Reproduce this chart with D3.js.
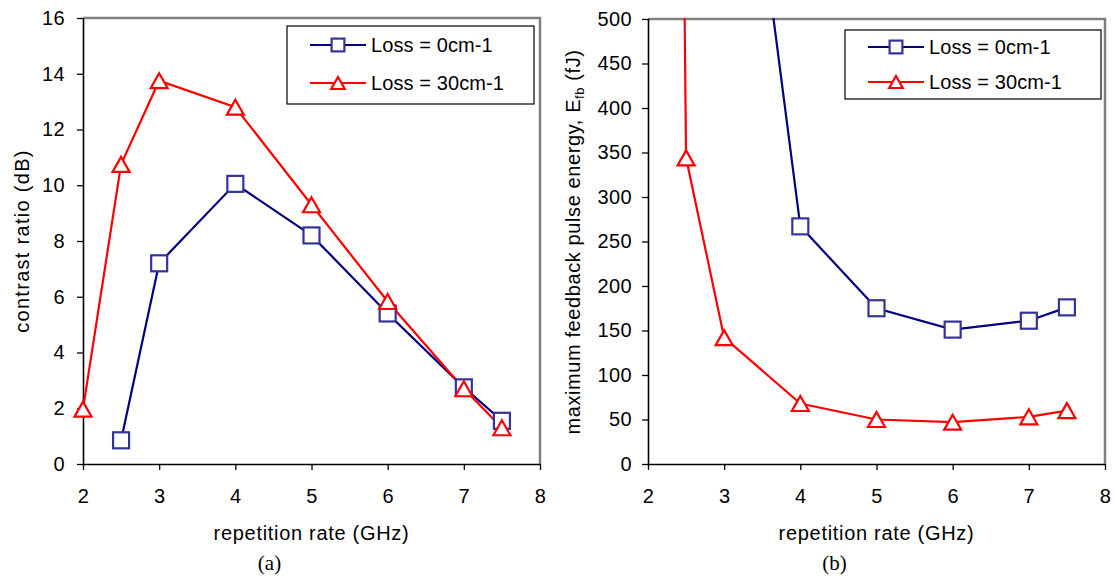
<!DOCTYPE html>
<html>
<head>
<meta charset="utf-8">
<script src="https://cdn.jsdelivr.net/npm/d3@7"></script>
<style>
  body { margin: 0; background: #fff; }
  svg text { font-family: "Liberation Sans", Arial, sans-serif; fill: #000; }
</style>
</head>
<body>
<svg width="1114" height="577"></svg>
<script>
// panel (a): contrast ratio
var rateA0 = [2.5, 3, 4, 5, 6, 7, 7.5];
var contrastLoss0 = [0.85, 7.2, 10.05, 8.2, 5.4, 2.75, 1.55];
var rateA30 = [2, 2.5, 3, 4, 5, 6, 7, 7.5];
var contrastLoss30 = [1.97, 10.75, 13.75, 12.8, 9.3, 5.83, 2.7, 1.3];

// panel (b): max feedback pulse energy (first points run off the top)
var rateB0 = [3, 4, 5, 6, 7, 7.5];
var energyLoss0 = [930, 267, 175, 151, 161, 176];
var rateB30 = [2, 2.5, 3, 4, 5, 6, 7, 7.5];
var energyLoss30 = [4500, 344, 142, 68, 50, 47, 53, 60];

var xTicks = [2, 3, 4, 5, 6, 7, 8];
var yTicksA = [0, 2, 4, 6, 8, 10, 12, 14, 16];
var yTicksB = [0, 50, 100, 150, 200, 250, 300, 350, 400, 450, 500];
var legendNames = ["Loss = 0cm-1", "Loss = 30cm-1"];

var svg = d3.select("svg");

function zip(xs, ys) {
  return xs.map(function(x, i) { return { x: x, y: ys[i] }; });
}

function triPath(w, h) {
  return "M0," + (-h / 2) + "L" + (w / 2) + "," + (h / 2) + "L" + (-w / 2) + "," + (h / 2) + "Z";
}

function drawMarker(g, kind, cx, cy, s) {
  s = s || 1;
  if (kind == "square") {
    g.append("rect")
      .attr("x", cx - 8 * s).attr("y", cy - 8 * s)
      .attr("width", 16 * s).attr("height", 16 * s)
      .attr("fill", "#fff").attr("stroke", "#333399").attr("stroke-width", 2.2);
  } else {
    g.append("path")
      .attr("d", triPath(17 * s, 15 * s))
      .attr("transform", "translate(" + cx + "," + cy + ")")
      .attr("fill", "#fff").attr("stroke", "#ff0000").attr("stroke-width", 2.2);
  }
}

function panel(opt) {
  var x = d3.scaleLinear().domain([2, 8]).range([opt.left, opt.right]);
  var y = d3.scaleLinear().domain([0, opt.ymax]).range([opt.bottom, opt.top]);
  var g = svg.append("g");

  // plot area border (gray top/right)
  g.append("path")
    .attr("d", "M" + opt.left + "," + opt.top + "H" + opt.right + "V" + opt.bottom)
    .attr("fill", "none").attr("stroke", "#808080").attr("stroke-width", 2.5);

  var clipId = "clip" + opt.id;
  g.append("clipPath").attr("id", clipId).append("rect")
    .attr("x", opt.left).attr("y", opt.top - 1)
    .attr("width", opt.right - opt.left).attr("height", opt.bottom - opt.top + 1);

  var yAxis = g.append("g")
    .attr("transform", "translate(" + opt.left + ",0)")
    .call(d3.axisLeft(y).tickValues(opt.yTicks).tickSize(6).tickPadding(opt.ypad));
  var xAxis = g.append("g")
    .attr("transform", "translate(0," + opt.bottom + ")")
    .call(d3.axisBottom(x).tickValues(xTicks).tickFormat(d3.format("d")).tickSize(6).tickPadding(19));
  [xAxis, yAxis].forEach(function(a) {
    a.select(".domain").attr("stroke", "#000").attr("stroke-width", 1.6);
    a.selectAll(".tick line").attr("stroke", "#000").attr("stroke-width", 1.3);
    a.selectAll(".tick text").attr("font-size", 20).attr("letter-spacing", 0.4)
      .attr("font-family", "Liberation Sans, Arial, sans-serif");
  });
  xAxis.select(".domain").attr("d", "M" + opt.left + ",0.5H" + opt.right);
  yAxis.select(".domain").attr("d", "M0.5," + opt.bottom + "V" + opt.top);

  var line = d3.line().x(function(d) { return x(d.x); }).y(function(d) { return y(d.y); });
  var series = [
    { data: zip(opt.x0, opt.y0), color: "#000080", kind: "square" },
    { data: zip(opt.x30, opt.y30), color: "#ff0000", kind: "tri" }
  ];
  series.forEach(function(s) {
    g.append("path")
      .attr("d", line(s.data))
      .attr("clip-path", "url(#" + clipId + ")")
      .attr("fill", "none").attr("stroke", s.color).attr("stroke-width", 2.2);
  });
  series.forEach(function(s) {
    s.data.forEach(function(d) {
      if (d.y <= opt.ymax) drawMarker(g, s.kind, x(d.x), y(d.y));
    });
  });

  // legend
  var lg = g.append("g");
  lg.append("rect")
    .attr("x", opt.leg[0]).attr("y", opt.leg[1])
    .attr("width", opt.leg[2]).attr("height", opt.leg[3])
    .attr("fill", "#fff").attr("stroke", "#000").attr("stroke-width", 1.2);
  series.forEach(function(s, i) {
    var ly = opt.leg[1] + opt.legRow0 + i * opt.legGap;
    var lx = opt.leg[0] + 23;
    lg.append("line")
      .attr("x1", lx).attr("x2", lx + 56).attr("y1", ly).attr("y2", ly)
      .attr("stroke", s.color).attr("stroke-width", 2.2);
    drawMarker(lg, s.kind, lx + 28, ly, 0.8);
    lg.append("text")
      .attr("x", lx + 61).attr("y", ly + 7)
      .attr("font-size", 20).attr("letter-spacing", 0.1)
      .text(legendNames[i]);
  });

  // axis titles
  g.append("text")
    .attr("x", (opt.left + opt.right) / 2).attr("y", 540)
    .attr("text-anchor", "middle").attr("font-size", 20).attr("letter-spacing", 0.7)
    .text("repetition rate (GHz)");
  g.append("text")
    .attr("x", (opt.left + opt.right) / 2 - 42).attr("y", 570)
    .attr("text-anchor", "middle").attr("font-size", 21)
    .style("font-family", "Liberation Serif, Times New Roman, serif")
    .text(opt.label);
  return { g: g, x: x, y: y };
}

panel({
  id: "a", left: 83, right: 540, top: 18, bottom: 464, ymax: 16, yTicks: yTicksA, ypad: 12,
  x0: rateA0, y0: contrastLoss0, x30: rateA30, y30: contrastLoss30,
  leg: [287, 26, 247, 78], legRow0: 19, legGap: 38, label: "(a)"
});
svg.append("text")
  .attr("transform", "translate(29,241) rotate(-90)")
  .attr("text-anchor", "middle").attr("font-size", 20).attr("letter-spacing", 1.3)
  .text("contrast ratio (dB)");

panel({
  id: "b", left: 648, right: 1105, top: 19, bottom: 464, ymax: 500, yTicks: yTicksB, ypad: 10,
  x0: rateB0, y0: energyLoss0, x30: rateB30, y30: energyLoss30,
  leg: [845, 30, 256, 69], legRow0: 17, legGap: 35, label: "(b)"
});
var yt = svg.append("text")
  .attr("transform", "translate(580,242) rotate(-90)")
  .attr("text-anchor", "middle").attr("font-size", 20).attr("letter-spacing", 0.6);
yt.append("tspan").text("maximum feedback pulse energy, E");
yt.append("tspan").attr("font-size", 13).attr("dy", 4).text("fb");
yt.append("tspan").attr("dy", -4).text(" (fJ)");
</script>
</body>
</html>
